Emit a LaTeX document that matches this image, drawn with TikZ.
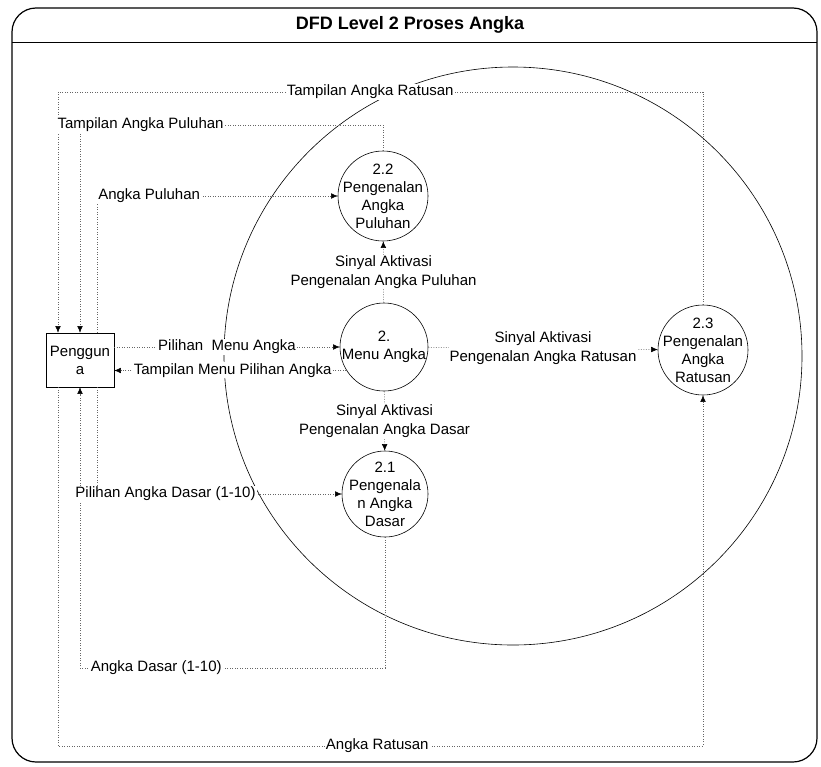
\documentclass[tikz,border=0pt]{standalone}
\usepackage{fontspec}
\setmainfont{Liberation Sans}
\usetikzlibrary{arrows.meta}

\begin{document}
\begin{tikzpicture}[x=1pt,y=-1pt,
  proc/.style={draw,circle,inner sep=-14pt,align=center,line width=0.6pt,font=\fontsize{15}{18}\selectfont},
  entity/.style={draw,rectangle,minimum width=68pt,minimum height=54pt,inner sep=0pt,align=center,line width=0.6pt,font=\fontsize{15}{18}\selectfont},
  flow/.style={black!60,line width=0.5pt,dash pattern=on 1pt off 1.5pt,-{Latex[length=6.5pt,width=5.5pt,color=black]}},
  lbl/.style={fill=white,inner sep=1pt,align=center,text=black,font=\fontsize{15}{19}\selectfont}]

\useasboundingbox (0,0) rectangle (821,766);

%Frame and title
\draw[line width=1.2pt,rounded corners=24pt] (12,8) rectangle (817,762);
\draw[line width=1pt] (12,42)--(817,42);
\node[font=\bfseries\fontsize{18}{21}\selectfont] (title) at (410,25) {DFD Level 2 Proses Angka};

%Process boundary
\draw[line width=0.6pt] (513,356) circle [radius=289pt];

%Entity and processes
\node[entity] (pengguna) at (80,360) {Penggun\\a};
\node[proc,minimum size=88pt] (menu) at (384,347) {2.\\Menu Angka};
\node[proc,minimum size=90pt] (puluhan) at (383,196) {2.2\\Pengenalan\\Angka\\Puluhan};
\node[proc,minimum size=86pt] (dasar) at (385,494) {2.1\\Pengenala\\n Angka\\Dasar};
\node[proc,minimum size=90pt] (ratusan) at (703,350) {2.3\\Pengenalan\\Angka\\Ratusan};

%Flows to Pengguna
\coordinate (rTop) at (703,92); \coordinate (rLeft) at (58,92);
\draw[flow] (ratusan.north)--(rTop)-- node[lbl,pos=0.516] (lRatTop) {Tampilan Angka Ratusan} (rLeft)--(rLeft |- pengguna.north);

\coordinate (pTop) at (383,125); \coordinate (pLeft) at (80,125);
\draw[flow] (puluhan.north)--(pTop)-- node[lbl,pos=0.8] (lPulTop) {Tampilan Angka Puluhan} (pLeft)--(pengguna.north);

\coordinate (aPul) at (97,196);
\draw[flow] (aPul |- pengguna.north)--(aPul)-- node[lbl,pos=0,anchor=west] (lPul) {Angka Puluhan} (puluhan.west);

\draw[flow] (pengguna.east |- menu.west)-- node[lbl] (lMenu) {Pilihan~ Menu Angka} (menu.west);
\draw[flow] (menu.212)-- node[lbl,pos=0.49] (lTMenu) {Tampilan Menu Pilihan Angka} (menu.212 -| pengguna.east);

%Activation signals
\draw[flow] (menu)-- node[lbl] (sPul) {Sinyal Aktivasi\\Pengenalan Angka Puluhan} (puluhan);
\draw[flow] (menu)-- node[lbl] (sDas) {Sinyal Aktivasi\\Pengenalan Angka Dasar} (dasar);
\draw[flow] (menu)-- node[lbl] (sRat) {Sinyal Aktivasi\\Pengenalan Angka Ratusan} (ratusan);

%Basic numbers
\coordinate (dBot) at (385,668); \coordinate (dLeft) at (80,668);
\draw[flow] (dasar.south)--(dBot)-- node[lbl,pos=0.75] (lDas) {Angka Dasar (1-10)} (dLeft)--(pengguna.south);

\coordinate (pDas) at (97,494);
\draw[flow] (pDas |- pengguna.south)--(pDas)-- node[lbl,pos=0.28] (lPDas) {Pilihan Angka Dasar (1-10)} (dasar.west);

%Hundreds
\coordinate (aRat) at (58,746); \coordinate (rBot) at (703,746);
\draw[flow] (aRat |- pengguna.south)--(aRat)-- node[lbl,pos=0.495] (lRat) {Angka Ratusan} (rBot)--(ratusan.south);

\end{tikzpicture}
\end{document}
